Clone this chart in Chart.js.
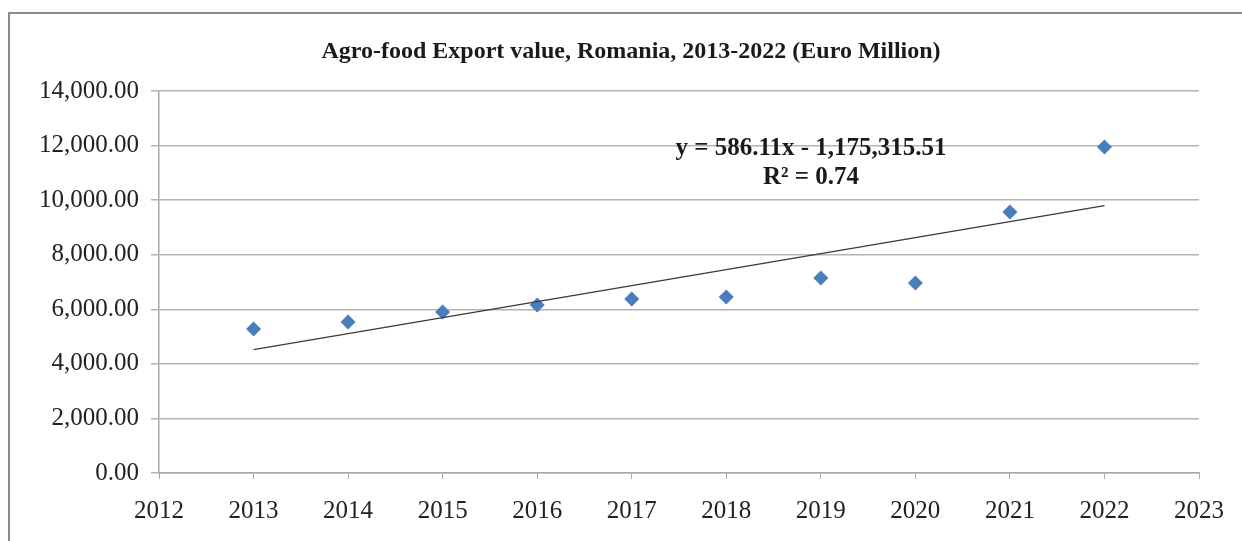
<!DOCTYPE html>
<html>
<head>
<meta charset="utf-8">
<script src="https://cdn.jsdelivr.net/npm/chart.js@4"></script>
<style>
  html, body { margin: 0; padding: 0; background: #fff; }
  #wrap { width: 1242px; height: 541px; }
</style>
</head>
<body>
<div id="wrap"><canvas id="chart"></canvas></div>
<script>
// Agro-food export value, Romania (Euro Million)
const years = [2013, 2014, 2015, 2016, 2017, 2018, 2019, 2020, 2021, 2022];
const exportValues = [5280, 5535, 5900, 6155, 6380, 6450, 7150, 6965, 9565, 11950];

// Linear trend as given in the label
const trendSlope = 586.11;
const trendIntercept = -1175315.51;
const trendLabel = ['y = 586.11x - 1,175,315.51', 'R\u00b2 = 0.74'];
const titleText = 'Agro-food Export value, Romania, 2013-2022 (Euro Million)';

const serif = '"Liberation Serif", "Times New Roman", serif';
const trendYears = [years[0], years[years.length - 1]];

// title, trend equation and outer frame
const overlay = {
    id: 'overlay',
    afterDraw(chart) {
        const ctx = chart.ctx;
        ctx.save();
        ctx.strokeStyle = '#8c8c8c';
        ctx.lineWidth = 2;
        ctx.strokeRect(9, 13, 1400, 700);

        ctx.fillStyle = '#1a1a1a';
        ctx.textAlign = 'center';
        ctx.textBaseline = 'middle';
        ctx.font = 'bold 24px ' + serif;
        ctx.fillText(titleText, 631, 52);

        ctx.font = 'bold 25px ' + serif;
        ctx.fillText(trendLabel[0], 811, 149);
        ctx.fillText(trendLabel[1], 811, 178);
        ctx.restore();
    }
};

new Chart(document.getElementById('chart'), {
    type: 'scatter',
    data: {
        datasets: [
            {
                label: 'Export value',
                data: years.map((y, i) => ({ x: y, y: exportValues[i] })),
                pointStyle: 'rectRot',
                pointRadius: 7.5,
                pointHoverRadius: 7.5,
                backgroundColor: '#4a7dbb',
                borderColor: '#4a7dbb',
                borderWidth: 0,
                order: 1
            },
            {
                label: 'Linear trend',
                type: 'line',
                data: trendYears.map(x => ({ x, y: trendSlope * x + trendIntercept })),
                borderColor: '#3a3a3a',
                borderWidth: 1.3,
                pointRadius: 0,
                fill: false,
                order: 0
            }
        ]
    },
    options: {
        responsive: true,
        maintainAspectRatio: false,
        animation: false,
        layout: { padding: { top: 91, right: 43, left: 0, bottom: 0 } },
        plugins: {
            legend: { display: false },
            tooltip: { enabled: false },
            title: { display: false }
        },
        scales: {
            x: {
                type: 'linear',
                min: 2012,
                max: 2023,
                ticks: {
                    stepSize: 1,
                    color: '#222',
                    padding: 17,
                    maxRotation: 0,
                    font: { family: serif, size: 25 },
                    callback: v => String(v)
                },
                grid: { drawOnChartArea: false, drawTicks: true, tickLength: 6, color: '#a8a8a8' },
                border: { color: '#a8a8a8', width: 1.5 },
                afterFit(scale) { scale.height = 68; }
            },
            y: {
                min: 0,
                max: 14000,
                ticks: {
                    stepSize: 2000,
                    color: '#222',
                    padding: 12,
                    font: { family: serif, size: 25 },
                    callback: v => v.toLocaleString('en-US', { minimumFractionDigits: 2, maximumFractionDigits: 2 })
                },
                grid: { color: '#b4b4b4', lineWidth: 1.5, tickLength: 8 },
                border: { color: '#a8a8a8', width: 1.5 },
                afterFit(scale) { scale.width = 159; }
            }
        }
    },
    plugins: [overlay]
});
</script>
</body>
</html>
